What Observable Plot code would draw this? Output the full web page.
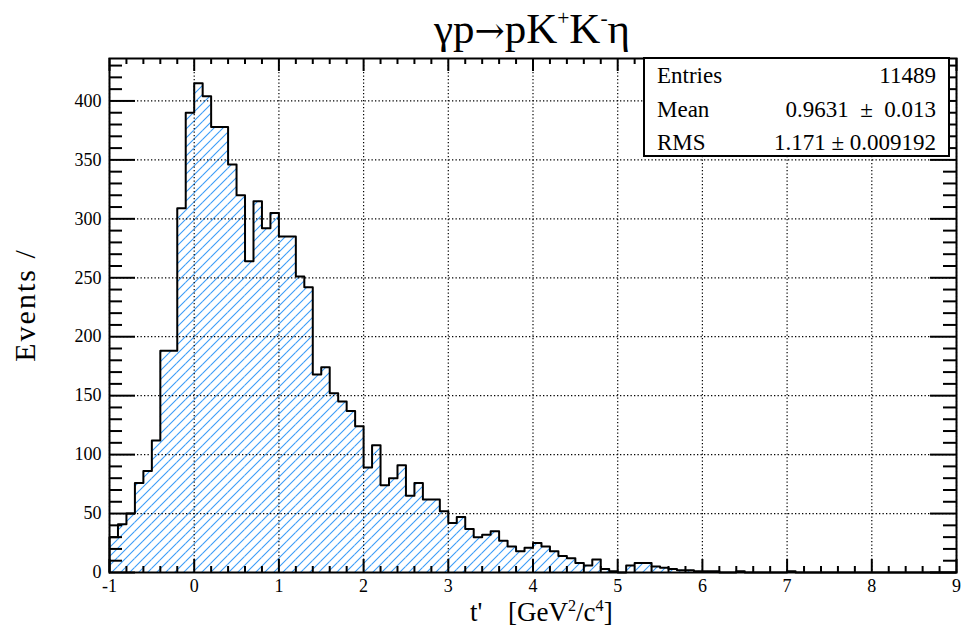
<!DOCTYPE html>
<html>
<head>
<meta charset="utf-8">
<script src="https://cdn.jsdelivr.net/npm/d3@7"></script>
<script src="https://cdn.jsdelivr.net/npm/@observablehq/plot@0.6"></script>
<style>
  html, body { margin: 0; padding: 0; background: #fff; }
  #wrap { position: relative; width: 969px; height: 640px; font-family: "Liberation Serif", "Times New Roman", serif; color: #000; }
  #wrap svg { position: absolute; left: 0; top: 0; }
  .title { position: absolute; left: 0; width: 1064px; top: 7px; text-align: center; font-size: 43px; line-height: 43px; white-space: nowrap; }
  .title sup { font-size: 50%; position: relative; top: -0.85em; vertical-align: baseline; line-height: 0; }
  .title .arr { font-family: "DejaVu Serif", serif; font-size: 36px; }
  .xlab { position: absolute; top: 602px; font-size: 27px; line-height: 20px; white-space: nowrap; }
  .xlab sup { font-size: 60%; position: relative; top: -0.6em; vertical-align: baseline; line-height: 0; }
  .ylab { position: absolute; left: 25px; top: 305px; transform: translate(-50%, -50%) rotate(-90deg); font-size: 30px; line-height: 30px; letter-spacing: 2px; white-space: nowrap; }
  .stats { position: absolute; left: 643px; top: 57px; width: 307px; height: 100px; box-sizing: border-box; border: 2px solid #000; background: #fff; font-size: 23px; }
  .stats .row { position: absolute; left: 12px; right: 12px; height: 33px; line-height: 33px; display: flex; justify-content: space-between; white-space: pre; }
</style>
</head>
<body>
<div id="wrap"></div>
<script>
// ---- data ----
const histLow = -1;          // lower edge of the histogram axis
const histHigh = 9;          // upper edge
const binWidth = 0.1;        // 100 bins
const counts = [
  30, 41, 50, 76, 86, 112, 188, 188, 309, 390,
  415, 404, 378, 378, 346, 320, 264, 315, 292, 305,
  285, 285, 251, 242, 168, 174, 152, 145, 137, 124,
  89, 108, 74, 80, 91, 65, 76, 62, 62, 52,
  42, 47, 37, 30, 32, 35, 27, 22, 18, 21,
  25, 22, 18, 14, 12, 8, 6, 11, 3, 1,
  0, 6, 8, 8, 5, 4, 3, 2, 2, 1,
  1, 1, 0, 0, 1, 0, 0, 0, 0, 0,
  1, 0, 0, 0, 0, 0, 0, 0, 0, 0,
  0, 0, 0, 0, 0, 0, 0, 0, 0, 0
];
const xTicks = [-1, 0, 1, 2, 3, 4, 5, 6, 7, 8, 9];
const yTicks = [0, 50, 100, 150, 200, 250, 300, 350, 400];
const yMax = 436;
const statLabels = ["Entries", "Mean", "RMS"];
const statValues = ["11489", "0.9631  \u00b1  0.013", "1.171 \u00b1 0.009192"];
const titleHTML = "\u03b3p<span class='arr'>\u2192</span>pK<sup>+</sup>K<sup>-</sup>\u03b7";
const xTitleVar = "t'";
const xTitleUnit = "[GeV<sup>2</sup>/c<sup>4</sup>]";
const yTitle = "Events /";

// ---- derived tables ----
const bins = counts.map((c, i) => ({x1: histLow + i * binWidth, x2: histLow + (i + 1) * binWidth, c}));
const outline = [{x: histLow, y: 0}, ...counts.map((c, i) => ({x: histLow + i * binWidth, y: c})), {x: histHigh, y: counts[counts.length - 1]}];
const xMinor = d3.range(-1, 9.0001, 0.2).filter(v => Math.abs(v - Math.round(v)) > 1e-6);
const yMinor = d3.range(10, yMax, 10).filter(v => v % 50 !== 0);

const W = 969, H = 640, mL = 109, mR = 13, mT = 58, mB = 68;
const fw = W - mL - mR, fh = H - mT - mB;
const ink = "#000";

const plot = Plot.plot({
  width: W, height: H,
  marginLeft: mL, marginRight: mR, marginTop: mT, marginBottom: mB,
  x: {domain: [histLow, histHigh]},
  y: {domain: [0, yMax]},
  style: {fontFamily: "'Liberation Serif', 'Times New Roman', serif", fontSize: "18px", background: "white", color: "black", overflow: "visible"},
  marks: [
    Plot.rectY(bins, {x1: "x1", x2: "x2", y: "c", fill: "url(#hatch)"}),
    Plot.gridX(xTicks, {stroke: ink, strokeOpacity: 1, strokeWidth: 1.2, strokeDasharray: "1.3,2.2"}),
    Plot.gridY(yTicks, {stroke: ink, strokeOpacity: 1, strokeWidth: 1.2, strokeDasharray: "1.3,2.2"}),
    Plot.line(outline, {x: "x", y: "y", curve: "step-after", stroke: ink, strokeWidth: 2}),
    // ticks inside the frame, on all four sides
    Plot.ruleX(xTicks, {insetTop: fh - 13, stroke: ink, strokeWidth: 2}),
    Plot.ruleX(xMinor, {insetTop: fh - 6, stroke: ink, strokeWidth: 2}),
    Plot.ruleX(xTicks, {insetBottom: fh - 13, stroke: ink, strokeWidth: 2}),
    Plot.ruleX(xMinor, {insetBottom: fh - 6, stroke: ink, strokeWidth: 2}),
    Plot.ruleY(yTicks, {insetRight: fw - 26, stroke: ink, strokeWidth: 2}),
    Plot.ruleY(yMinor, {insetRight: fw - 13, stroke: ink, strokeWidth: 2}),
    Plot.ruleY(yTicks, {insetLeft: fw - 26, stroke: ink, strokeWidth: 2}),
    Plot.ruleY(yMinor, {insetLeft: fw - 13, stroke: ink, strokeWidth: 2}),
    Plot.frame({stroke: ink, strokeWidth: 2}),
    Plot.axisX(xTicks, {tickSize: 0, tickPadding: 7, label: null, tickFormat: d => String(d)}),
    Plot.axisY(yTicks, {tickSize: 0, tickPadding: 8, label: null, tickFormat: d => String(d)})
  ]
});

// hatch pattern used by the histogram fill
const ns = "http://www.w3.org/2000/svg";
const defs = document.createElementNS(ns, "defs");
const pat = document.createElementNS(ns, "pattern");
pat.setAttribute("id", "hatch");
pat.setAttribute("patternUnits", "userSpaceOnUse");
pat.setAttribute("width", "9");
pat.setAttribute("height", "9");
const pth = document.createElementNS(ns, "path");
pth.setAttribute("d", "M0,9L9,0M-2,2L2,-2M7,11L11,7");
pth.setAttribute("stroke", "#3a9cf8");
pth.setAttribute("stroke-width", "1.1");
pth.setAttribute("fill", "none");
pat.appendChild(pth);
defs.appendChild(pat);
plot.insertBefore(defs, plot.firstChild);

const wrap = document.getElementById("wrap");
wrap.appendChild(plot);

function addDiv(cls, html, style) {
  const d = document.createElement("div");
  d.className = cls;
  d.innerHTML = html;
  if (style) Object.assign(d.style, style);
  wrap.appendChild(d);
  return d;
}
addDiv("title", titleHTML);
addDiv("xlab", xTitleVar, {left: "470px"});
addDiv("xlab", xTitleUnit, {left: "508px"});
addDiv("ylab", yTitle);
const box = addDiv("stats", "");
statLabels.forEach((lab, i) => {
  const r = document.createElement("div");
  r.className = "row";
  r.style.top = (i * 33.5) + "px";
  const a = document.createElement("span"); a.textContent = lab;
  const b = document.createElement("span"); b.textContent = statValues[i];
  r.appendChild(a); r.appendChild(b);
  box.appendChild(r);
});
</script>
</body>
</html>
